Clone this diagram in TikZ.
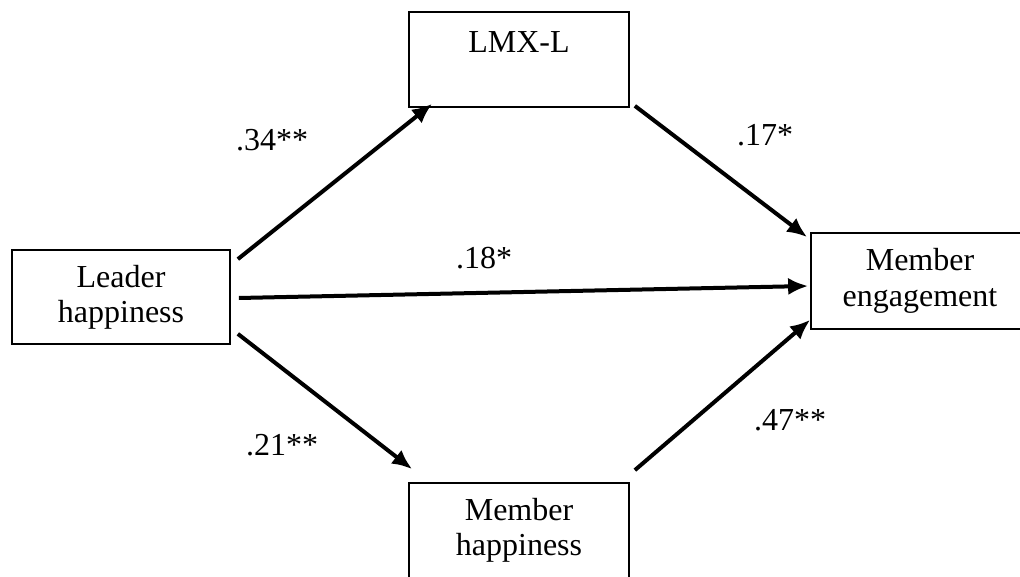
\documentclass[tikz,border=0pt]{standalone}
\usepackage{fontspec}
\setmainfont{Liberation Serif}
\usetikzlibrary{arrows.meta}
\begin{document}
\begin{tikzpicture}[x=0.75pt,y=-0.75pt,
  box/.style={draw=black,line width=1.3pt,rectangle,inner sep=0pt,
    align=center,font=\fontsize{24}{26.5}\selectfont},
  boxline/.style={line width=1.3pt},
  arr/.style={line width=3pt,-{Latex[length=15pt,width=13pt]}},
  lab/.style={font=\fontsize{24}{26.5}\selectfont,inner sep=0pt}]
\useasboundingbox (0,0) rectangle (1020,577);
\clip (0,0) rectangle (1020,577);
\node[box,minimum width=163.5pt,minimum height=70.5pt] (lead) at (121,297) {Leader\\happiness};
\node[box,minimum width=165pt,minimum height=71.25pt] (lmx) at (519,59.5) {LMX-L\\\mbox{}};
\node[box,draw=none,minimum width=162pt,minimum height=70.5pt] (me) at (920,281) {Member\\engagement};
\draw[boxline] ([xshift=4pt]me.north east) -- (me.north west) -- (me.south west) -- ([xshift=4pt]me.south east);
\node[box,minimum width=165pt,minimum height=71.25pt] (mh) at (519,530.5) {Member\\happiness};
\draw[arr] ([shift={(7,10)}]lead.north east) -- ([shift={(24,-4)}]lmx.south west);
\draw[arr] ([shift={(8,1)}]lead.east) -- ([shift={(-3,5)}]me.west);
\draw[arr] ([shift={(7,-11)}]lead.south east) -- ([shift={(4,-13)}]mh.north west);
\draw[arr] ([shift={(5,-2)}]lmx.south east) -- ([shift={(-4,4)}]me.north west);
\draw[arr] ([shift={(5,-12)}]mh.north east) -- ([shift={(-1,-9)}]me.south west);
\node[lab] (l1) at (272,140) {.34**};
\node[lab] (l2) at (765,135) {.17*};
\node[lab] (l3) at (484,258) {.18*};
\node[lab] (l4) at (282,445) {.21**};
\node[lab] (l5) at (790,420) {.47**};
\end{tikzpicture}
\end{document}
